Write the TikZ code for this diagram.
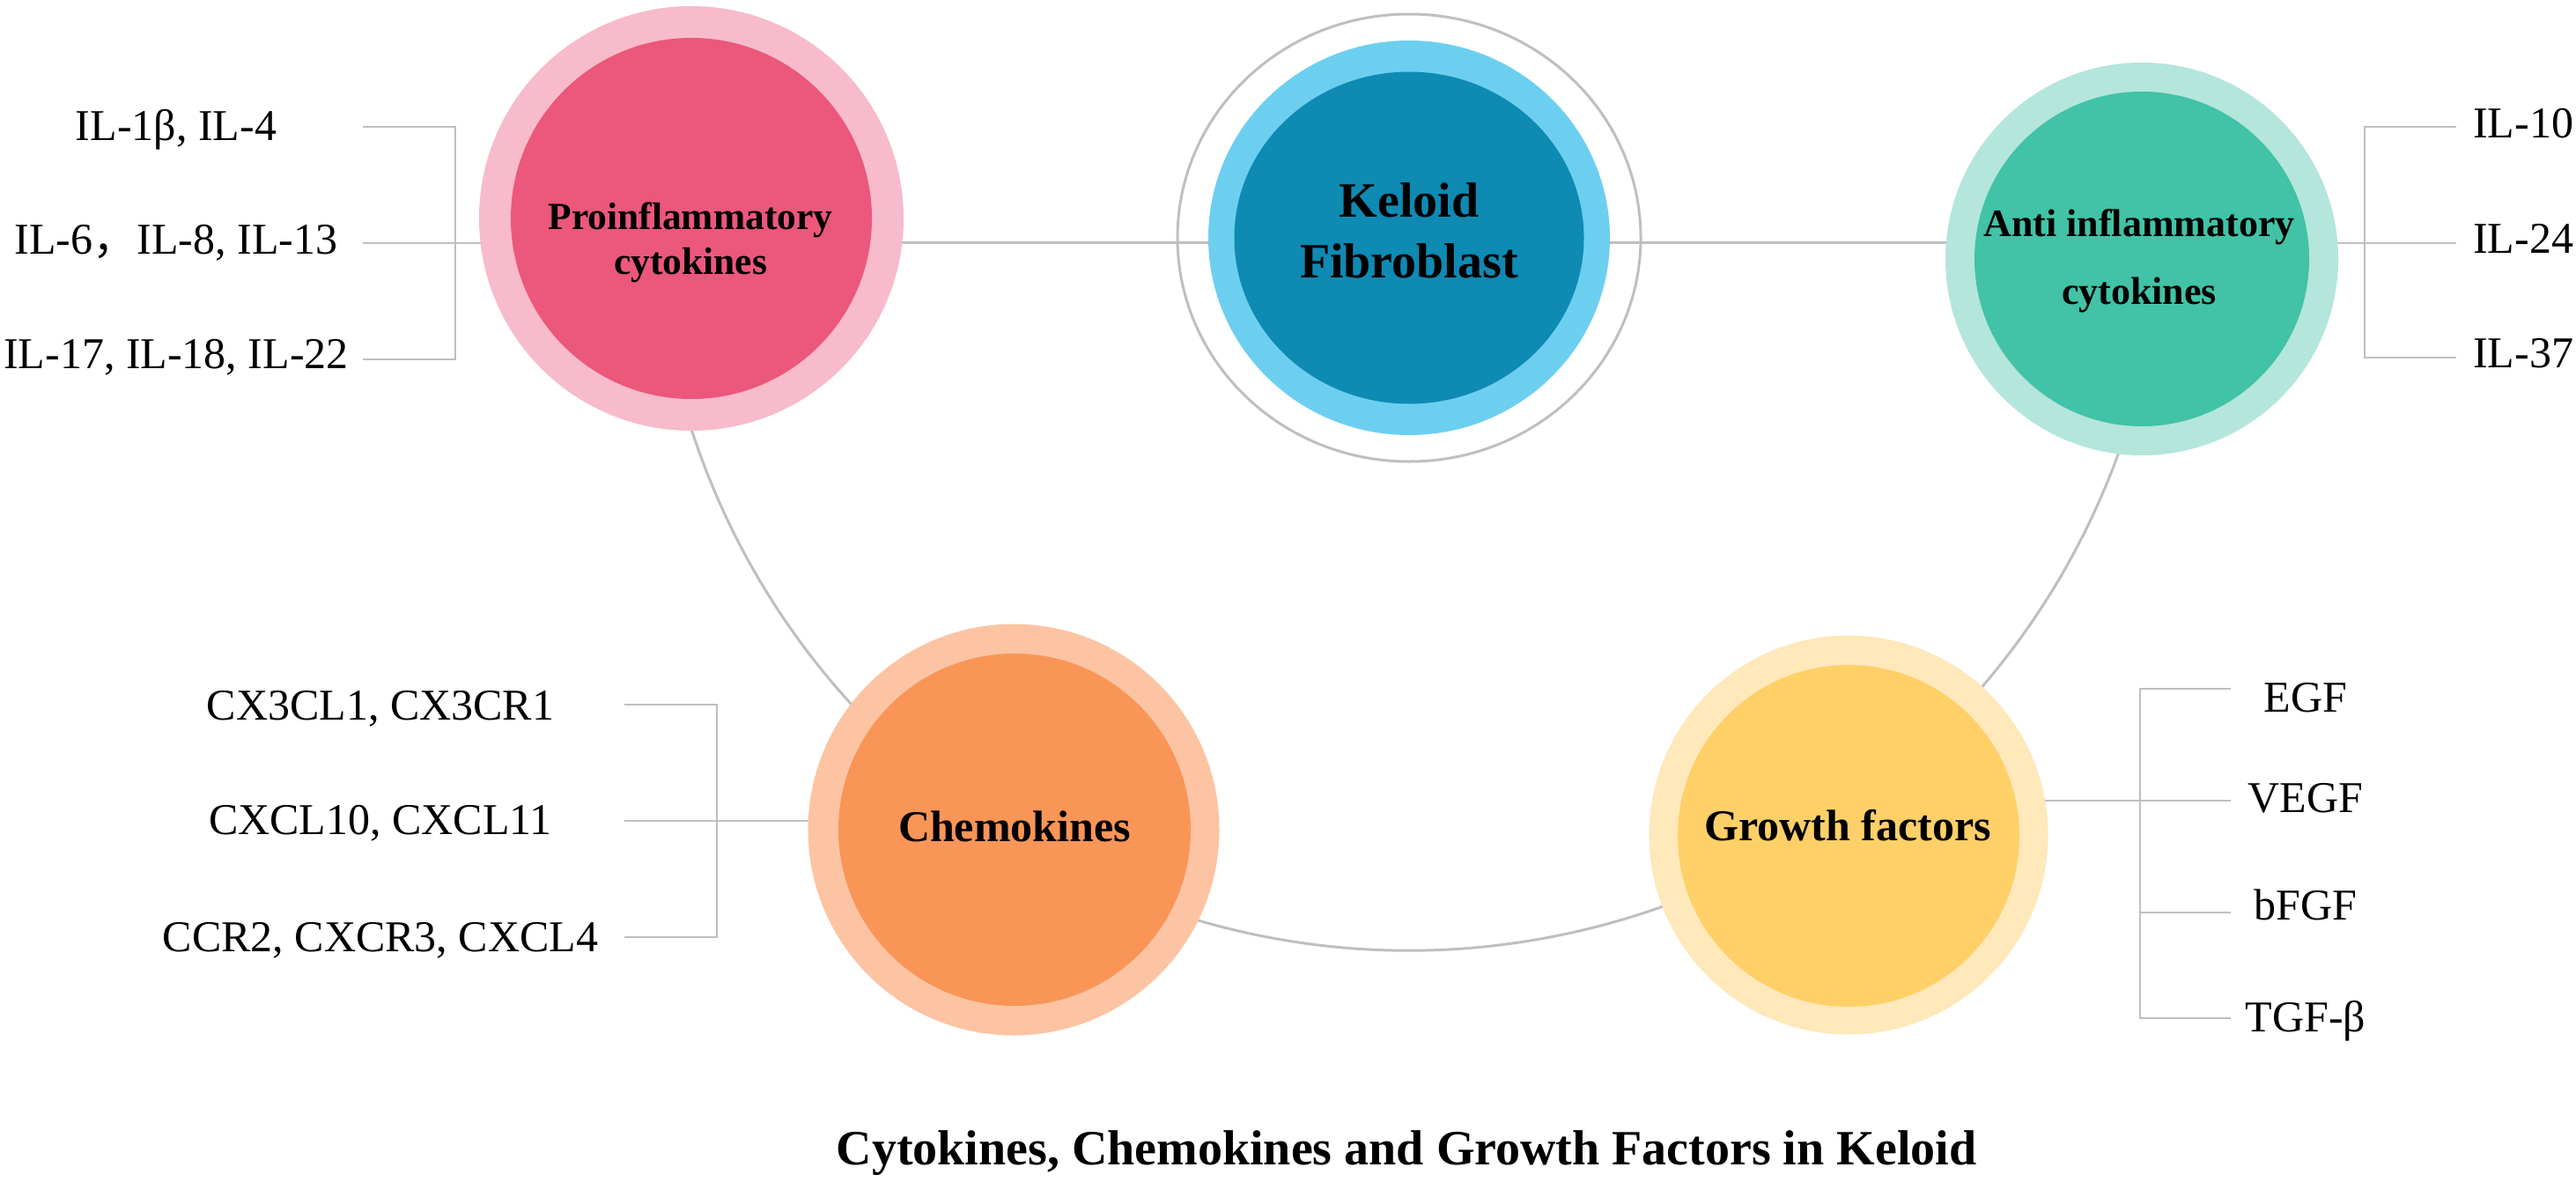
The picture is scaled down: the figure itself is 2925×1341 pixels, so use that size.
\documentclass[tikz,border=0pt]{standalone}
\usepackage{fontspec}
\setmainfont{Liberation Serif}
\newfontfamily\cjk{Noto Sans CJK SC}
\usetikzlibrary{shapes.geometric}
\pgfdeclarelayer{background}
\pgfsetlayers{background,main}
\definecolor{proout}{RGB}{247,187,203}
\definecolor{proin}{RGB}{236,87,124}
\definecolor{kelout}{RGB}{109,207,240}
\definecolor{kelin}{RGB}{15,138,179}
\definecolor{antiout}{RGB}{180,230,219}
\definecolor{antiin}{RGB}{66,194,166}
\definecolor{chemout}{RGB}{252,196,162}
\definecolor{chemin}{RGB}{249,149,87}
\definecolor{growout}{RGB}{255,232,186}
\definecolor{growin}{RGB}{255,208,104}
\definecolor{linegray}{RGB}{191,191,191}
\begin{document}
\begin{tikzpicture}[x=1pt,y=-1pt,
  disc/.style={circle,inner sep=0pt,draw=none,minimum size=#1},
  oval/.style 2 args={ellipse,inner sep=0pt,minimum width=#1,minimum height=#2},
  conn/.style={draw=linegray,line width=3pt},
  brk/.style={draw=linegray,line width=2.6pt},
  lbl/.style={font=\fontsize{50}{60}\selectfont,inner sep=0pt,anchor=base},
  lblw/.style={font=\fontsize{50}{60}\selectfont,inner sep=0pt,anchor=base west},
  blbl/.style={font=\fontsize{#1}{#1}\selectfont\bfseries,inner sep=0pt,anchor=base}]
\useasboundingbox (0,0) rectangle (2925,1341);

% circles
\node[disc=482pt,fill=proout] (proring) at (785,248) {};
\node[disc=410pt,fill=proin] (pro) at (785,248) {};
\node[oval={526pt}{508pt},draw=linegray,line width=3pt] (kelrim) at (1600,270) {};
\node[oval={456pt}{448pt},fill=kelout] (kelring) at (1600,270) {};
\node[oval={397pt}{377pt},fill=kelin] (kel) at (1600,270) {};
\node[disc=446pt,fill=antiout] (antiring) at (2432,294) {};
\node[disc=380pt,fill=antiin] (anti) at (2432,294) {};
\node[disc=467pt,fill=chemout] (chemring) at (1151,942) {};
\node[disc=400pt,fill=chemin] (chem) at (1152,942) {};
\node[disc=453pt,fill=growout] (growring) at (2099,948) {};
\node[disc=388pt,fill=growin] (grow) at (2099,949) {};

% circle labels
\node[blbl=43.5] (protxtA) at (784,260) {Proinflammatory};
\node[blbl=43.5] (protxtB) at (784,311) {cytokines};
\node[blbl=56] (keltxtA) at (1600,246) {Keloid};
\node[blbl=56] (keltxtB) at (1600,315) {Fibroblast};
\node[blbl=44] (antitxtA) at (2429,268) {Anti inflammatory};
\node[blbl=44] (antitxtB) at (2429,345) {cytokines};
\node[blbl=50] (chemtxt) at (1152,955) {Chemokines};
\node[blbl=50] (growtxt) at (2098,954) {Growth factors};
\node[blbl=56] (title) at (1597,1322) {Cytokines, Chemokines and Growth Factors in Keloid};

% side labels
\node[lbl] (pA) at (200,159) {IL-1β, IL-4};
\node[lbl] (pB) at (200,288) {IL-6{\cjk ，}IL-8, IL-13};
\node[lbl] (pC) at (200,418) {IL-17, IL-18, IL-22};
\node[lblw] (aA) at (2808,156) {IL-10};
\node[lblw] (aB) at (2808,287) {IL-24};
\node[lblw] (aC) at (2808,417) {IL-37};
\node[lbl] (cA) at (432,817) {CX3CL1, CX3CR1};
\node[lbl] (cB) at (432,947) {CXCL10, CXCL11};
\node[lbl] (cC) at (432,1080) {CCR2, CXCR3, CXCL4};
\node[lbl] (gA) at (2618,808) {EGF};
\node[lbl] (gB) at (2618,922) {VEGF};
\node[lbl] (gC) at (2618,1044) {bFGF};
\node[lbl] (gD) at (2618,1171) {TGF-β};

% connector coordinates
\coordinate (hub) at (1600,222);
\coordinate (hl) at (0,275.5);
\coordinate (pl1) at (412,144); \coordinate (pl2) at (412,276); \coordinate (pl3) at (412,408);
\coordinate (pv1) at (517,144); \coordinate (pv3) at (517,408);
\coordinate (av1) at (2685,144); \coordinate (av3) at (2685,406);
\coordinate (ar1) at (2789,144); \coordinate (ar2) at (2789,276); \coordinate (ar3) at (2789,406);
\coordinate (cl1) at (709,800); \coordinate (cl2) at (709,932); \coordinate (cl3) at (709,1064);
\coordinate (cv1) at (814,800); \coordinate (cv3) at (814,1064);
\coordinate (gv1) at (2430,782); \coordinate (gv4) at (2430,1156);
\coordinate (gr1) at (2533,782); \coordinate (gr2) at (2533,909);
\coordinate (gr3) at (2533,1036); \coordinate (gr4) at (2533,1156);

\begin{pgfonlayer}{background}
\fill[white] (0,0) rectangle (2925,1341);
\draw[conn] (proring.center |- hl) -- (antiring.center |- hl);
\draw[conn] (hub) ++(165:857) arc[start angle=165,end angle=15,radius=857];
\draw[brk] (pl1) -- (pv1) -- (pv3) -- (pl3);
\draw[brk] (pl2) -- (proring.center |- pl2);
\draw[brk] (ar1) -- (av1) -- (av3) -- (ar3);
\draw[brk] (antiring.center |- ar2) -- (ar2);
\draw[brk] (cl1) -- (cv1) -- (cv3) -- (cl3);
\draw[brk] (cl2) -- (chemring.center |- cl2);
\draw[brk] (gr1) -- (gv1) -- (gv4) -- (gr4);
\draw[brk] (gv1 |- gr3) -- (gr3);
\draw[brk] (growring.center |- gr2) -- (gr2);
\end{pgfonlayer}
\end{tikzpicture}
\end{document}
